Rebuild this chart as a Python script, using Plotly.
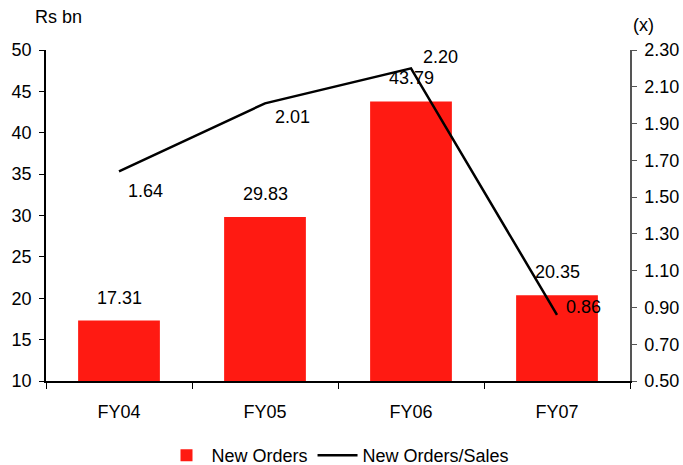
import plotly.graph_objects as go

categories = ["FY04", "FY05", "FY06", "FY07"]
new_orders = [17.31, 29.83, 43.79, 20.35]
orders_to_sales = [1.64, 2.01, 2.20, 0.86]
left_ticks = [10, 15, 20, 25, 30, 35, 40, 45, 50]
right_ticks = [0.50, 0.70, 0.90, 1.10, 1.30, 1.50, 1.70, 1.90, 2.10, 2.30]

# label offsets (px) for the ratio labels, as placed in the reference
ratio_label_shift = [(26, -20), (27, -14), (29, 11), (26, 8)]

FONT = "Liberation Sans, Arial, sans-serif"
FS = 18

fig = go.Figure()
fig.add_trace(go.Bar(
    x=categories, y=new_orders, name="New Orders",
    marker=dict(color="#FF1A12", line=dict(width=0)),
    yaxis="y",
))
fig.add_trace(go.Scatter(
    x=categories, y=orders_to_sales, name="New Orders/Sales",
    mode="lines", line=dict(color="black", width=2.5),
    yaxis="y2",
))

annotations = []
for c, v in zip(categories, new_orders):
    annotations.append(dict(x=c, y=v, xref="x", yref="y", text=f"{v:.2f}",
                            showarrow=False, yanchor="middle", yshift=23,
                            font=dict(family=FONT, size=FS, color="black")))
for c, v, (dx, dy) in zip(categories, orders_to_sales, ratio_label_shift):
    annotations.append(dict(x=c, y=v, xref="x", yref="y2", text=f"{v:.2f}",
                            showarrow=False, yanchor="middle", xanchor="center",
                            xshift=dx, yshift=dy,
                            font=dict(family=FONT, size=FS, color="black")))
annotations.append(dict(x=0, y=1, xref="paper", yref="paper", text="Rs bn",
                        showarrow=False, xanchor="center", yanchor="middle",
                        xshift=-5, yshift=33,
                        font=dict(family=FONT, size=FS, color="black")))
annotations[-1]["xshift"] = 12
annotations.append(dict(x=1, y=1, xref="paper", yref="paper", text="(x)",
                        showarrow=False, xanchor="center", yanchor="middle",
                        xshift=13, yshift=25,
                        font=dict(family=FONT, size=FS, color="black")))

fig.update_layout(
    width=683, height=465,
    margin=dict(l=46, r=53, t=50, b=84, autoexpand=False),
    paper_bgcolor="white", plot_bgcolor="white",
    font=dict(family=FONT, size=FS, color="black"),
    bargap=0.44,
    showlegend=True,
    legend=dict(orientation="h", x=0.5, xanchor="center", y=-0.225, yanchor="middle",
                font=dict(family=FONT, size=FS, color="black"),
                itemwidth=40, traceorder="normal"),
    xaxis=dict(showline=True, linecolor="black", linewidth=1.5,
               ticks="outside", ticklen=6, tickcolor="black", tickson="boundaries",
               showgrid=False, zeroline=False, ticklabelstandoff=14,
               tickfont=dict(family=FONT, size=FS)),
    yaxis=dict(range=[10, 50], tickvals=left_ticks, showline=True, linecolor="black",
               linewidth=1.5, ticks="outside", ticklen=5, tickcolor="black",
               showgrid=False, zeroline=False, ticklabelstandoff=4,
               tickfont=dict(family=FONT, size=FS)),
    yaxis2=dict(range=[0.5, 2.3], tickvals=right_ticks,
                ticktext=[f"{t:.2f}" for t in right_ticks],
                overlaying="y", side="right", showline=True, linecolor="#555555",
                linewidth=1.5, ticks="outside", ticklen=5, tickcolor="#555555",
                showgrid=False, zeroline=False, ticklabelstandoff=4,
                tickfont=dict(family=FONT, size=FS)),
    annotations=annotations,
)

fig.write_html("out.html")
